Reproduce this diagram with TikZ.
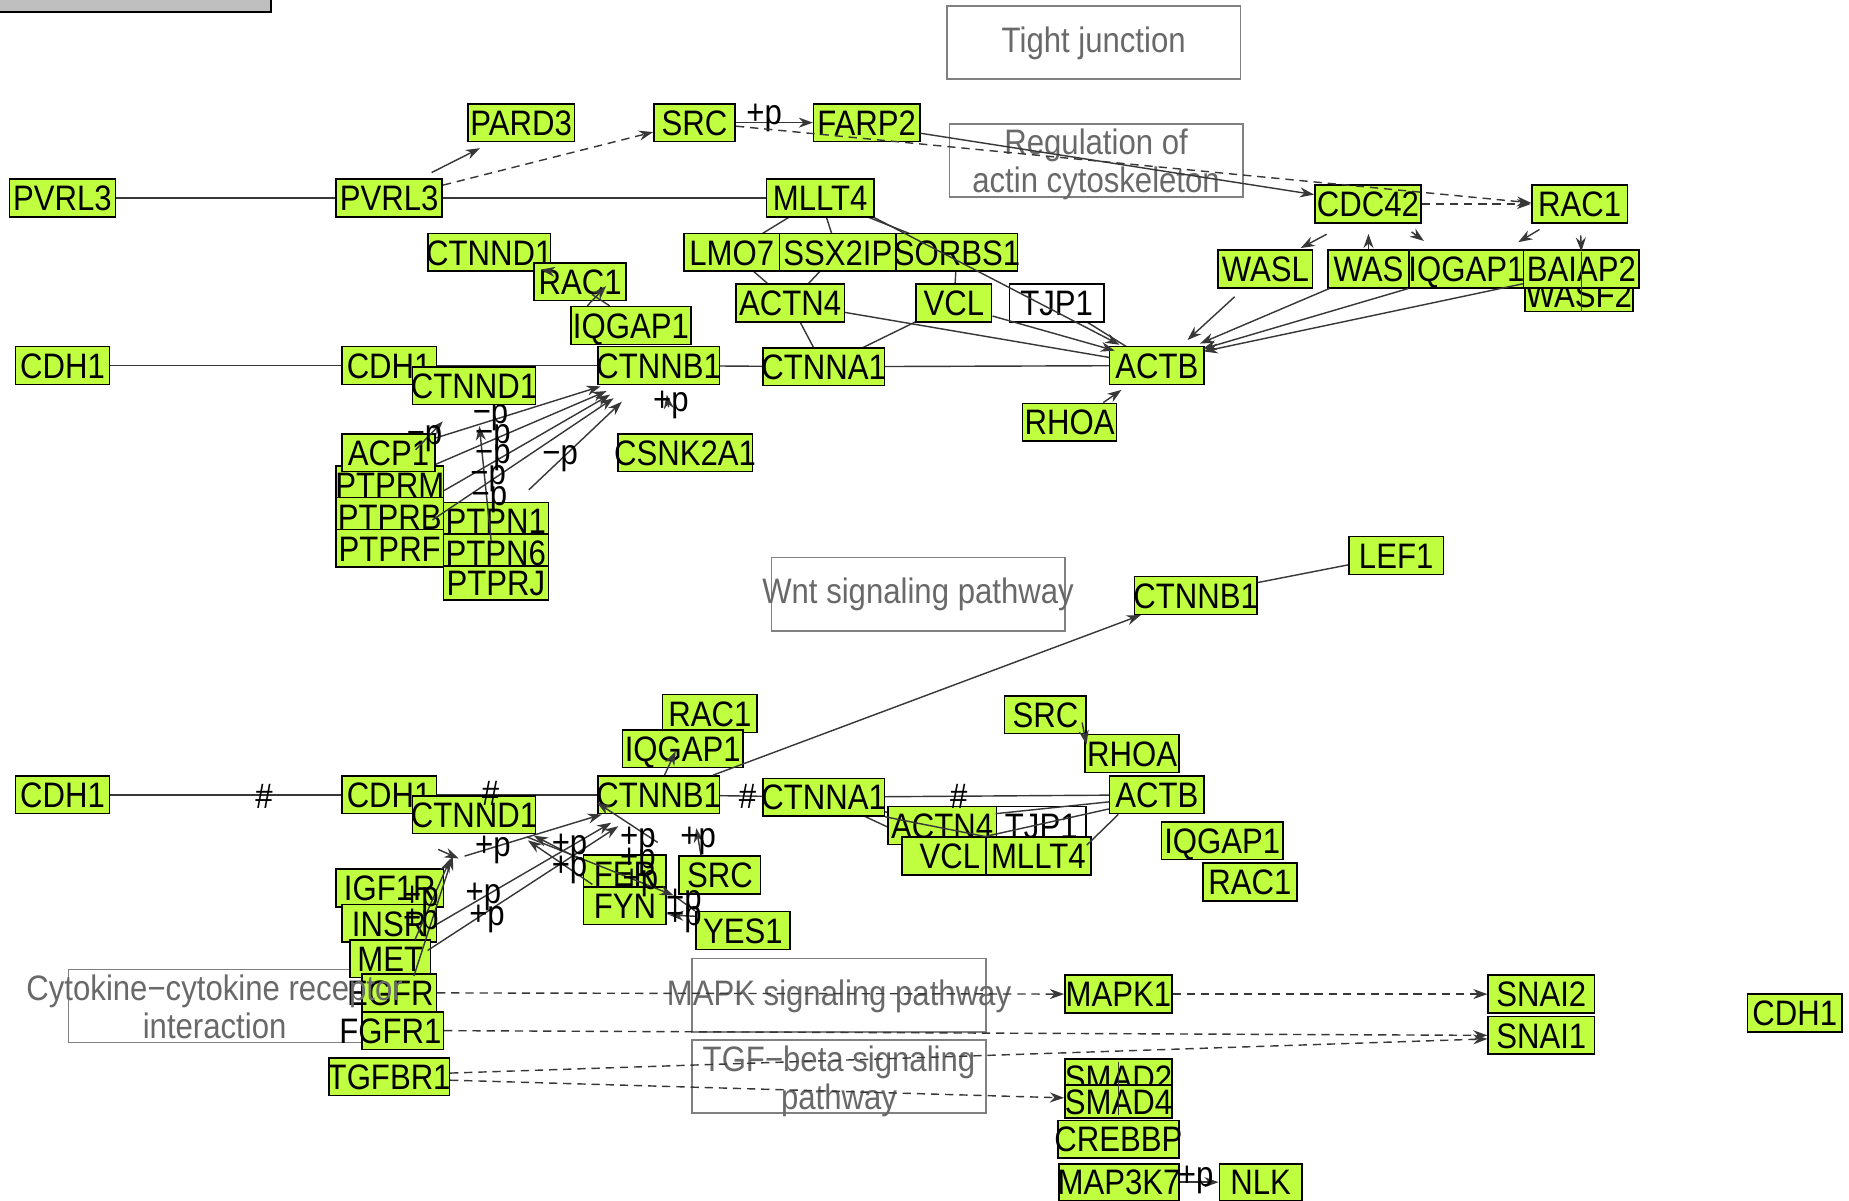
\documentclass[tikz,border=0pt]{standalone}
\usepackage{fontspec}
\setmainfont{Liberation Sans}[FakeStretch=0.88]
\usetikzlibrary{arrows.meta,calc}
\pgfdeclarelayer{background}
\pgfsetlayers{background,main}
\definecolor{gfill}{RGB}{191,255,63}
\definecolor{edgec}{RGB}{55,55,55}
\definecolor{pwc}{RGB}{105,105,105}
\definecolor{pwb}{RGB}{128,128,128}
\definecolor{topgray}{RGB}{191,191,191}
\tikzset{
 gene/.style={draw=black,fill=gfill,line width=1.3pt,inner sep=0pt,minimum height=32pt,text height=21.5pt,text depth=0pt,font=\fontsize{30}{32}\selectfont},
 pwbox/.style={draw=pwb,line width=1.2pt},
 pwtxt/.style={text=pwc,font=\fontsize{30}{32}\selectfont,align=center,inner sep=0pt},
 ln/.style={draw=edgec,line width=1.2pt},
 arr/.style={ln,-{Stealth[length=12pt,width=8.5pt]}},
 dsh/.style={dash pattern=on 7pt off 5pt},
 lbl/.style={font=\fontsize{30}{32}\selectfont,inner sep=0pt,text=black},
}
\newcommand\gnode[6][]{\node[gene,minimum width=#5pt,#1] (#2) at (#3,#4) {\makebox[0pt]{#6}};}
\begin{document}
\begin{tikzpicture}[x=1pt,y=-1pt]
\useasboundingbox (0,0) rectangle (1568,1018);
\begin{pgfonlayer}{background}
\fill[white] (0,0) rectangle (1568,1018);
\end{pgfonlayer}
% top-left gray box
\draw[fill=topgray,draw=black,line width=1.3pt] (-5,-20) rectangle (230,10);
% pathway boxes
\draw[pwbox] (803,5) rectangle (1052,67);
\draw[pwbox] (805,105) rectangle (1054,167);
\draw[pwbox] (654,473) rectangle (903,535);
\draw[pwbox] (587,813) rectangle (836,875);
\draw[pwbox] (587,882) rectangle (836,944);
\draw[pwbox] (58,822) rectangle (307,884);
\node[pwtxt] (tj) at (927.5,37) {Tight junction};
\node[pwtxt] (regact) at (929.5,139.5) {Regulation of\\actin cytoskeleton};
\node[pwtxt] (wnt) at (778.5,504) {Wnt signaling pathway};
\node[pwtxt] (mapkp) at (711.5,845) {MAPK signaling pathway};
\node[pwtxt] (tgfp) at (711.5,917) {TGF−beta signaling\\pathway};

% genes top
\gnode{pard3}{442}{104}{90}{PARD3}
\gnode{srcA}{589}{104}{69}{SRC}
\gnode{farp2}{735}{104}{90}{FARP2}
\gnode{pvrlA}{53}{168}{90}{PVRL3}
\gnode{pvrlB}{330}{168}{90}{PVRL3}
\gnode{mllt4A}{695.5}{168}{91}{MLLT4}
\gnode{cdc42}{1160}{173}{90}{CDC42}
\gnode{rac1A}{1339.5}{173}{81}{RAC1}
\gnode{ctnndA}{415}{214}{104}{CTNND1}
\gnode{rac1B}{492}{239}{78}{RAC1}
\gnode{lmo7}{620.5}{214}{81}{LMO7}
\gnode{ssx2ip}{710.5}{214}{99}{SSX2IP}
\gnode{sorbs1}{811.5}{214}{103}{SORBS1}
\gnode{iqgapA}{535}{276}{102}{IQGAP1}
\gnode{actn4A}{670}{257}{92}{ACTN4}
\gnode{vclA}{809}{257}{64}{VCL}
\gnode[fill=white]{tjp1A}{896}{257}{80}{TJP1}
\gnode{wasl}{1073}{228}{80}{WASL}
\gnode{was}{1160.5}{228}{69}{WAS}
\gnode{iqgapB}{1243.5}{228}{97}{IQGAP1}
\gnode[minimum height=28pt]{wasf2}{1339}{250}{92}{WASF2}
\gnode{baiap2}{1341}{228}{98}{BAIAP2}
\gnode{cdh1A}{53}{310}{80}{CDH1}
\gnode{cdh1B}{330}{310}{80}{CDH1}
\gnode{ctnndB}{402}{327}{104}{CTNND1}
\gnode{ctnnbA}{558.5}{310}{103}{CTNNB1}
\gnode{ctnnaA}{698.5}{311}{103}{CTNNA1}
\gnode{actbA}{981}{310}{80}{ACTB}
\gnode{rhoaA}{907}{358}{80}{RHOA}
\gnode{ptprm}{330.5}{411}{91}{PTPRM}
\gnode{ptprb}{330.5}{438}{91}{PTPRB}
\gnode{ptprf}{330.5}{465}{91}{PTPRF}
\gnode{acp1}{329.5}{384}{79}{ACP1}
\gnode{csnk}{581}{384}{114}{CSNK2A1}
\gnode{ptpn1}{420.5}{442}{89}{PTPN1}
\gnode{ptpn6}{420.5}{469}{89}{PTPN6}
\gnode[minimum height=29pt]{ptprj}{420.5}{494.5}{89}{PTPRJ}
% wnt
\gnode{lef1}{1184}{471}{80}{LEF1}
\gnode{ctnnbW}{1014}{505}{104}{CTNNB1}
% bottom
\gnode{rac1C}{602}{605}{80}{RAC1}
\gnode{iqgapC}{579}{635}{102}{IQGAP1}
\gnode{srcB}{886.5}{606}{69}{SRC}
\gnode{rhoaB}{960}{639}{80}{RHOA}
\gnode{cdh1C}{53}{674}{80}{CDH1}
\gnode{cdh1D}{330}{674}{80}{CDH1}
\gnode{ctnndC}{402}{691}{104}{CTNND1}
\gnode{ctnnbB}{558.5}{674}{103}{CTNNB1}
\gnode{ctnnaB}{698.5}{676}{103}{CTNNA1}
\gnode{actbB}{981}{674}{80}{ACTB}
\gnode{actn4B}{799}{700}{92}{ACTN4}
\gnode[fill=white]{tjp1B}{883}{700}{76}{TJP1}
\gnode{vclB}{805.5}{726}{81}{VCL}
\gnode{mllt4B}{880.5}{726}{89}{MLLT4}
\gnode{iqgapD}{1036.5}{713}{103}{IQGAP1}
\gnode{rac1D}{1060}{748}{80}{RAC1}
\gnode{igf1r}{330.5}{753}{91}{IGF1R}
\gnode{insr}{330}{783}{80}{INSR}
\gnode{met}{331}{813}{68}{MET}
\gnode{egfr}{338.5}{842}{63}{\hspace*{-7.5pt}\makebox[0pt]{EGFR}\hspace*{7.5pt}}
\gnode{fgfr1}{341.5}{874}{69}{\hspace*{-10.5pt}\makebox[0pt]{FGFR1}\hspace*{10.5pt}}
\gnode{tgfbr1}{330}{913}{102}{TGFBR1}
\gnode{fer}{530}{741}{70}{FER}
\gnode{fyn}{530}{768}{70}{FYN}
\gnode{srcC}{610.5}{742}{69}{SRC}
\gnode{yes1}{630}{789}{80}{YES1}
\gnode{mapk1}{948.5}{843}{91}{MAPK1}
\gnode{snai2}{1307}{843}{90}{SNAI2}
\gnode{snai1}{1307}{878}{90}{SNAI1}
\gnode{cdh1E}{1522}{859}{80}{CDH1}
\gnode{smad2}{948.5}{914}{91}{SMAD2}
\gnode[minimum height=28pt]{smad4}{948.5}{934}{91}{SMAD4}
\gnode{crebbp}{948.5}{966}{103}{CREBBP}
\gnode[minimum height=31pt]{map3k7}{949}{1002.5}{102}{MAP3K7}
\gnode[minimum height=31pt]{nlk}{1069}{1002.5}{70}{NLK}
\node[pwtxt] (cyt) at (182,854) {Cytokine−cytokine receptor\\interaction};

% hidden (behind boxes) links
\begin{pgfonlayer}{background}
\draw[ln] (pvrlA.center) -- (pvrlB.center);
\draw[ln] (pvrlB.center) -- (mllt4A.center);
\draw[ln] (cdh1A.center) -- (cdh1B.center);
\draw[ln] (cdh1B.center) -- (ctnnbA.center);
\draw[ln] (ctnnbA.center) -- (ctnnaA.center);
\draw[ln] (ctnnaA.center) -- (actbA.center);
\draw[ln] (actn4A.center) -- (actbA.center);
\draw[ln] (ctnnaA.center) -- (vclA.center);
\draw[ln] (sorbs1.center) -- (vclA.center);
\draw[ln] (actn4A.center) -- (ctnnaA.center);
\draw[ln] (lmo7.center) -- (actn4A.center);
\draw[ln] (ssx2ip.center) -- (actn4A.center);
\draw[ln] (mllt4A.center) -- (lmo7.center);
\draw[ln] (mllt4A.center) -- (ssx2ip.center);
\draw[ln] (mllt4A.center) -- (sorbs1.center);
\draw[ln] (tjp1A.center) -- (actbA.center);
\draw[ln] (cdh1C.center) -- (cdh1D.center);
\draw[ln] (cdh1D.center) -- (ctnnbB.center);
\draw[ln] (ctnnbB.center) -- (ctnnaB.center);
\draw[ln] (ctnnaB.center) -- (actbB.center);
\draw[ln] (ctnnaB.center) -- (vclB.center);
\draw[ln] (ctnnaB.center) -- (actn4B.center);
\end{pgfonlayer}

% top connectors
\draw[arr] ([shift={(36,-5)}]pvrlB.north) -- ([shift={(-35,5)}]pard3.south);
\draw[arr,dsh] ([shift={(0,-11)}]pvrlB.east) -- ([shift={(0,8)}]srcA.west);
\draw[arr] (srcA.east) -- (farp2.west);
\node[lbl] (lp1) at (648,100) {+p};
\draw[arr,dsh] ([shift={(0,3)}]srcA.east) -- ([shift={(0,-1)}]rac1A.west);
\draw[arr] ([shift={(0,9)}]farp2.east) -- ([shift={(0,-8)}]cdc42.west);
\draw[arr,dsh] (cdc42.east) -- (rac1A.west);
\draw[arr] ([shift={(-35,9)}]cdc42.south) -- ([shift={(30,-1)}]wasl.north);
\draw[arr] (was.north) -- ++(0,-13);
\draw[arr] ([shift={(37,7)}]cdc42.south) -- ([shift={(-36,-7)}]iqgapB.north);
\draw[arr] ([shift={(-34,5)}]rac1A.south) -- ([shift={(44,-6)}]iqgapB.north);
\draw[arr] ([shift={(1,10)}]rac1A.south) -- ([shift={(0,2)}]baiap2.north);
\draw[ln] ([shift={(0,2)}]baiap2.north) -- ([shift={(2,0)}]wasf2.south);
\draw[arr] ([shift={(-26,7)}]wasl.south) -- ([shift={(26,-5)}]actbA.north);
\draw[arr] ([shift={(2,0)}]was.south west) -- ([shift={(-4,-2)}]actbA.north east);
\draw[arr] (iqgapB.south west) -- ([shift={(-2,-14)}]actbA.east);
\draw[arr] ([shift={(0,-4)}]baiap2.south west) -- ([shift={(-1,-12)}]actbA.east);
\draw[arr] (mllt4A.south east) -- ([shift={(9,-1)}]actbA.north west);
\draw[arr] ([shift={(0,11)}]vclA.east) -- ([shift={(5,4)}]actbA.north west);
\draw[arr] ([shift={(-12,0)}]rhoaA.north east) -- ([shift={(-30,4)}]actbA.south);
\draw[arr] ([shift={(17,8)}]rac1B.north west) -- ([shift={(-9,-2)}]ctnndA.south east);
\draw[arr] ([shift={(-37,0)}]iqgapA.north) -- ([shift={(22,-13)}]rac1B.south);
\draw[ln] ([shift={(10,-6)}]rac1B.south) -- ([shift={(-18,0)}]iqgapA.north);
% phosphatases
\draw[arr] ([shift={(0,4)}]acp1.north east) -- ([shift={(3,1)}]ctnnbA.south west);
\draw[arr] ([shift={(0,-7)}]acp1.south east) -- ([shift={(8,5)}]ctnnbA.south west);
\draw[arr] ([shift={(0,5)}]ptprm.east) -- ([shift={(11,8)}]ctnnbA.south west);
\draw[arr] ([shift={(-10,3)}]ptprb.east) -- ([shift={(14,11)}]ctnnbA.south west);
\draw[arr] ([shift={(28,-10)}]ptpn1.north) -- ([shift={(21,14)}]ctnnbA.south west);
\draw[arr] ([shift={(-4,0)}]ptpn1.south) -- ([shift={(77,-6)}]acp1.north);
\draw[arr] ([shift={(23,14)}]acp1.north) -- ([shift={(46,-10)}]acp1.north);
\node[lbl] (lm1) at (416,354) {−p};
\node[lbl] (lm2) at (418,371) {−p};
\node[lbl] (lm3) at (418,388) {−p};
\node[lbl] (lm4) at (414,406) {−p};
\node[lbl] (lm5) at (415,424) {−p};
\node[lbl] (lm6) at (360,372) {−p};
\node[lbl] (lm7) at (475,389) {−p};
\draw[arr] ([shift={(-14,-22)}]csnk.north) -- ([shift={(7,8)}]ctnnbA.south);
\node[lbl] (lp2) at (569,343) {+p};
% wnt
\draw[arr] ([shift={(-6,0)}]ctnnbB.north east) -- ([shift={(6,0)}]ctnnbW.south west);
\draw[ln] ([shift={(0,-11)}]ctnnbW.east) -- ([shift={(0,8)}]lef1.west);
% bottom
\node[lbl] (h1) at (224,675) {\#};
\node[lbl] (h2) at (416,673) {\#};
\node[lbl] (h3) at (634,675) {\#};
\node[lbl] (h4) at (813,675) {\#};
\draw[arr] ([shift={(5,0)}]ctnnbB.north) -- ([shift={(-6,2)}]iqgapC.center);
\draw[arr] ([shift={(-4,-10)}]srcB.south east) -- ([shift={(2,9)}]rhoaB.north west);
\draw[ln] (ctnnaB.south east) -- (mllt4B.north west);
\draw[ln] ([shift={(0,6)}]actbB.west) -- ([shift={(0,-10)}]tjp1B.west);
\draw[ln] ([shift={(0,12)}]actbB.west) -- (mllt4B.north west);
\draw[ln] ([shift={(8,0)}]actbB.south west) -- (tjp1B.south east);
% receptor kinases
\coordinate (pA) at (384,726);
\draw[arr] ([shift={(20,-2)}]met.south) -- (pA);
\draw[arr] ([shift={(22,-3)}]insr.south) -- ([shift={(-2,2)}]pA);
\draw[arr] ([shift={(-5,-16)}]igf1r.north east) -- ([shift={(5,2)}]pA);
\draw[arr] ([shift={(10,0)}]pA) -- ([shift={(4,0)}]ctnnbB.south west);
\draw[arr] ([shift={(-4,3)}]insr.east) -- ([shift={(12,7)}]ctnnbB.south west);
\draw[arr] ([shift={(-3,-7)}]met.east) -- ([shift={(18,10)}]ctnnbB.south west);
\node[lbl] (lp3) at (418,721) {+p};
\node[lbl] (lp4) at (410,761) {+p};
\node[lbl] (lp5) at (413,779) {+p};
\node[lbl] (lp6) at (357,763) {+p};
\node[lbl] (lp7) at (357,783) {+p};
% FER / FYN / SRC / YES1
\draw[arr] ([shift={(-1,5)}]fer.north west) -- ([shift={(-2,1)}]ctnndC.south east);
\draw[arr] ([shift={(8,9)}]fer.west) -- ([shift={(-7,5)}]ctnndC.south east);
\draw[arr] ([shift={(-8,-10)}]fer.north east) -- ([shift={(0,-10)}]ctnnbB.south west);
\draw[arr] ([shift={(-8,2)}]ctnndC.south east) -- ([shift={(-18,-13)}]yes1.north west);
\draw[ln] ([shift={(-18,-13)}]yes1.north west) -- (yes1.north west);
\draw[arr] ([shift={(0,-12)}]yes1.west) -- ([shift={(2,8)}]fyn.east);
\draw[arr] ([shift={(-16,0)}]srcC.north) -- ++(-4,-23);
\node[lbl] (lp8) at (483,719) {+p};
\node[lbl] (lp9) at (483,738) {+p};
\node[lbl] (lp10) at (541,713) {+p};
\node[lbl] (lp11) at (541,731) {+p};
\node[lbl] (lp12) at (543,749) {+p};
\node[lbl] (lp13) at (592,713) {+p};
\node[lbl] (lp14) at (580,766) {+p};
\node[lbl] (lp15) at (580,779) {+p};
% dashed signalling links
\draw[arr,dsh] (egfr.east) -- (mapk1.west);
\draw[arr,dsh] (mapk1.east) -- (snai2.west);
\draw[arr,dsh] (fgfr1.east) -- (snai1.west);
\draw[arr,dsh] ([shift={(0,-3)}]tgfbr1.east) -- ([shift={(0,3)}]snai1.west);
\draw[arr,dsh] ([shift={(0,3)}]tgfbr1.east) -- ([shift={(0,-3)}]smad4.west);
\draw[arr] (map3k7.east) -- (nlk.west);
\node[lbl] (lp16) at (1014,1001) {+p};
\draw[ln,line width=0.8pt] ([shift={(0,3)}]smad2.north) -- ([shift={(0,-3)}]smad4.south);
\end{tikzpicture}
\end{document}
